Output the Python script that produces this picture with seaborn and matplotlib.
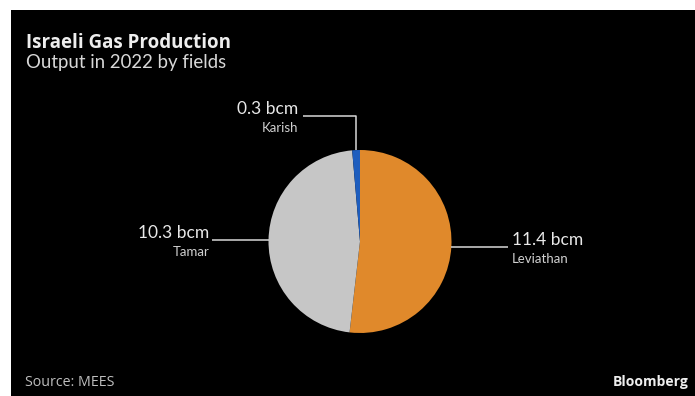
import numpy as np
import matplotlib
matplotlib.use("Agg")
import matplotlib.pyplot as plt
import seaborn as sns
from matplotlib.patches import Rectangle

fields = ["Leviathan", "Tamar", "Karish"]
values = [11.4, 10.3, 0.3]
value_labels = ["11.4 bcm", "10.3 bcm", "0.3 bcm"]
colors = ["#E0892B", "#C6C6C6", "#1D5DBE"]
title = "Israeli Gas Production"
subtitle = "Output in 2022 by fields"
source = "Source: MEES"
brand = "Bloomberg"

sns.set_theme(style="dark")
plt.rcParams['font.family'] = ['Lato', 'DejaVu Sans']

W, H = 695, 396
fig = plt.figure(figsize=(W / 100, H / 100), dpi=100, facecolor="white")
fig.add_artist(Rectangle((11 / W, 0), 1 - 11 / W, 1 - 10 / H, transform=fig.transFigure,
                         facecolor="black", edgecolor="none", zorder=0))
renderer = fig.canvas.get_renderer()


def fit(t, target_px):
    ext = t.get_window_extent(renderer=renderer)
    t.set_fontsize(t.get_fontsize() * target_px / ext.width)


cx, cy, r = 360, 241.5, 91.5
ax = fig.add_axes([(cx - r) / W, (H - cy - r) / H, 2 * r / W, 2 * r / H])
ax.set_facecolor("none")
wedges, _ = ax.pie(values, colors=colors, startangle=90, counterclock=False,
                   wedgeprops=dict(linewidth=0), radius=1)
ax.set_xlim(-1, 1)
ax.set_ylim(-1, 1)
ax.set_aspect("equal")
ax.axis("off")

lc = "#D8D8D8"
vcol, ncol = "#E8E8E8", "#D0D0D0"
vfs, nfs = 12.5, 9.5
arm = 1.615
for w, lab, name in zip(wedges, value_labels, fields):
    ang = np.deg2rad((w.theta1 + w.theta2) / 2)
    x0, y0 = np.cos(ang), np.sin(ang)
    if name == "Karish":
        ytop, xend = 1.368, -0.626
        ax.plot([x0, x0, xend], [y0, ytop, ytop], color=lc, lw=1.1, clip_on=False,
                solid_capstyle="butt")
        pos, ha, dx = (xend, ytop), "right", -4
    elif x0 > 0:
        xend = arm
        ax.plot([x0, xend], [y0, y0], color=lc, lw=1.1, clip_on=False, solid_capstyle="butt")
        pos, ha, dx = (xend, y0), "left", 4
    else:
        xend = -arm
        ax.plot([x0, xend], [y0, y0], color=lc, lw=1.1, clip_on=False, solid_capstyle="butt")
        pos, ha, dx = (xend, y0), "right", -3
    ax.annotate(lab, pos, xytext=(dx, 2), textcoords="offset pixels", ha=ha,
                va="baseline", color=vcol, fontsize=vfs, annotation_clip=False)
    ax.annotate(name, pos, xytext=(dx, -6), textcoords="offset pixels", ha=ha,
                va="top", color=ncol, fontsize=nfs, annotation_clip=False)

t1 = fig.text(26 / W, 1 - 48.5 / H, title, color="#EEEEEE", fontsize=13,
              fontweight="bold", ha="left", va="baseline", family=["Open Sans", "DejaVu Sans"])
fit(t1, 203)
t2 = fig.text(26 / W, 1 - 68 / H, subtitle, color="#D8D8D8", fontsize=13,
              ha="left", va="baseline", family=["Lato", "DejaVu Sans"])
fit(t2, 200)
t3 = fig.text(25 / W, 1 - 386 / H, source, color="#BEBEBE", fontsize=9.5,
              ha="left", va="baseline", family=["Open Sans", "DejaVu Sans"])
fit(t3, 90)
t4 = fig.text(689 / W, 1 - 386 / H, brand, color="#EEEEEE", fontsize=10,
              fontweight="bold", ha="right", va="baseline", family=["Open Sans", "DejaVu Sans"])
fit(t4, 76)

fig.savefig("out.png", dpi=100, facecolor=fig.get_facecolor())
